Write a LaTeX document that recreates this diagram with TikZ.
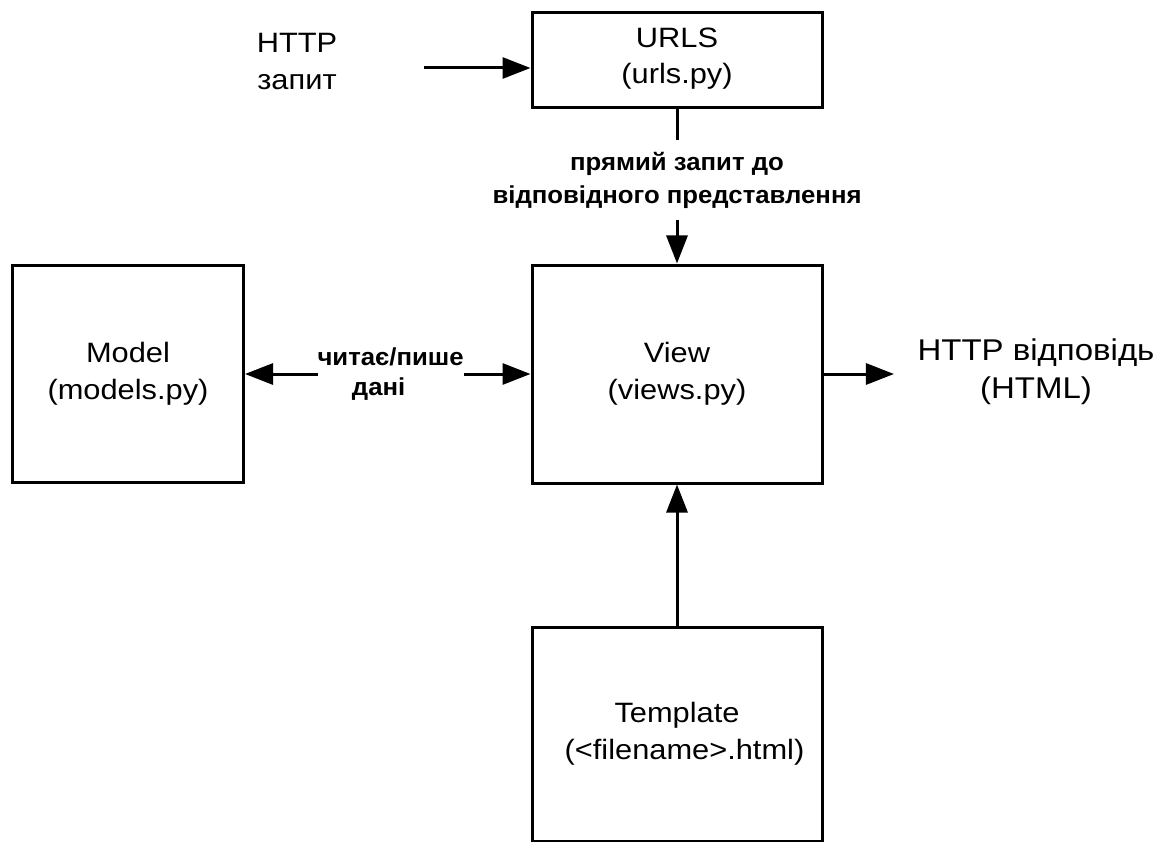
\documentclass[tikz,border=0pt]{standalone}
\usepackage{fontspec}
\setmainfont{Liberation Sans}[FakeStretch=1.1]
\newfontfamily\lblfont{Liberation Sans}[FakeStretch=1.05]
\usetikzlibrary{arrows.meta}
\begin{document}
\begin{tikzpicture}[x=1pt,y=-1pt,
  box/.style={draw, line width=3pt, align=center, inner sep=0pt,
    font=\fontsize{28}{37}\selectfont},
  txt/.style={align=center, font=\fontsize{28}{37}\selectfont},
  lbl/.style={align=center, fill=white, font=\lblfont\bfseries\fontsize{24.5}{33}\selectfont},
  arr/.style={line width=3pt, -{Triangle[length=28pt,width=21pt]}},
  darr/.style={line width=3pt, {Triangle[length=28pt,width=21pt]}-{Triangle[length=28pt,width=21pt]}}
]
\useasboundingbox (0,0) rectangle (1158,842);
\fill[white] (0,0) rectangle (1158,842);

\node[box, minimum width=290pt, minimum height=95pt] (urls) at (677,60.5) {};
\node[txt, font=\fontsize{28}{36}\selectfont] (urlstxt) at (677,59) {URLS\\(urls.py)};
\node[box, minimum width=290pt, minimum height=218pt] (view) at (677,374) {View\\(views.py)};
\node[box, minimum width=231pt, minimum height=217pt] (model) at (128,374) {Model\\(models.py)};
\node[box, minimum width=290pt, minimum height=214pt] (tmpl) at (677,734) {Template\\\hspace*{15pt}(<filename>.html)};

\node[txt] (req) at (297,62) {HTTP\\запит};
\node[txt, font=\fontsize{30}{38}\selectfont] (resp) at (1036,372) {HTTP відповідь\\(HTML)};

\coordinate (in) at (424,68);
\draw[arr] (in) -- (in -| urls.west);

\draw[arr] (urls) -- (view)
  node[lbl, pos=0.46, inner xsep=2pt, inner ysep=12pt] {прямий запит до\\відповідного представлення};

\draw[darr] (model) -- (view)
  node[lbl, pos=0.51, inner xsep=0pt, inner ysep=2pt, font=\lblfont\bfseries\fontsize{24.5}{30}\selectfont] {читає/пише\\дані\hspace*{24pt}};

\draw[arr, shorten >=20pt] (view) -- (view -| resp.west);

\draw[arr] (tmpl) -- (view);
\end{tikzpicture}
\end{document}
